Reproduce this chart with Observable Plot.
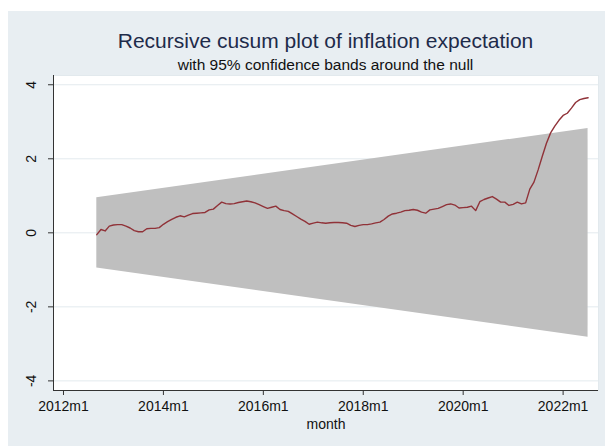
<!DOCTYPE html>
<html><head><meta charset="utf-8">
<script src="https://cdn.jsdelivr.net/npm/d3@7"></script>
<script src="https://cdn.jsdelivr.net/npm/@observablehq/plot@0.6"></script>
<style>
body{margin:0;background:#fff;width:605px;height:446px;overflow:hidden;position:relative;font-family:"Liberation Sans",Arial,Helvetica,sans-serif}
#bg{position:absolute;left:8px;top:11px;right:0;bottom:0;background:#e8eef2}
#head{position:absolute;left:53px;width:545px;top:0;height:72px;text-align:center}
#title{position:absolute;left:0;right:0;top:30px;font-size:21px;color:#1e2b4a;line-height:1;white-space:nowrap}
#subtitle{position:absolute;left:0;right:0;top:57px;font-size:15.5px;color:#111;line-height:1;white-space:nowrap}
#chart{position:absolute;left:0;top:72px}
</style>
</head><body>
<div id="bg"></div>
<div id="head"><div id="title"></div><div id="subtitle"></div></div>
<div id="chart"></div>
<script>
const titleText = "Recursive cusum plot of inflation expectation";
const subtitleText = "with 95% confidence bands around the null";
const xLabel = "month";

// months since 2012m1; series starts 2012m9
const firstMonth = 8;
const cusum = [
  -0.05,0.09,0.05,0.18,0.21,0.22,0.22,0.18,0.13,0.06,
  0.03,0.03,0.11,0.12,0.12,0.14,0.23,0.30,0.36,0.42,
  0.46,0.43,0.48,0.52,0.53,0.54,0.55,0.62,0.64,0.74,
  0.83,0.79,0.78,0.79,0.82,0.84,0.86,0.84,0.81,0.76,
  0.71,0.66,0.69,0.72,0.63,0.60,0.58,0.51,0.44,0.37,
  0.31,0.23,0.26,0.29,0.27,0.26,0.27,0.28,0.28,0.27,
  0.26,0.20,0.17,0.20,0.22,0.22,0.24,0.27,0.29,0.36,
  0.45,0.51,0.53,0.56,0.60,0.61,0.63,0.61,0.56,0.53,
  0.62,0.64,0.66,0.71,0.76,0.78,0.75,0.67,0.68,0.69,
  0.72,0.60,0.84,0.90,0.94,0.98,0.91,0.83,0.83,0.74,
  0.77,0.83,0.78,0.81,1.18,1.37,1.70,2.07,2.42,2.70,
  2.88,3.04,3.17,3.23,3.37,3.52,3.60,3.63,3.65
];
// confidence band end points
const bandMonths = [8, 126];
const bandUpper = [0.95, 2.82];
const bandLower = [-0.95, -2.82];

const xTicks = [0, 24, 48, 72, 96, 120];
const xTickLabels = ["2012m1","2014m1","2016m1","2018m1","2020m1","2022m1"];
const yTicks = [-4, -2, 0, 2, 4];
const yTickLabels = ["-4","-2","0","2","4"];

const xDomain = [-2.4, 128.5];
const yDomain = [-4.26, 4.25];

document.getElementById("title").textContent = titleText;
document.getElementById("subtitle").textContent = subtitleText;

const series = cusum.map((v, i) => ({m: firstMonth + i, v}));
const band = bandMonths.map((m, i) => ({m, lo: bandLower[i], hi: bandUpper[i]}));

const chart = Plot.plot({
  width: 605, height: 374,
  marginLeft: 53, marginRight: 7, marginTop: 3, marginBottom: 56,
  style: {background: "transparent", fontFamily: "'Liberation Sans', Arial, sans-serif", fontSize: "14px", color: "#333"},
  x: {domain: xDomain},
  y: {domain: yDomain},
  marks: [
    Plot.frame({fill: "white", stroke: "#e2e9ed"}),
    Plot.gridY(yTicks, {stroke: "#e3eaee", strokeOpacity: 1, strokeWidth: 1}),
    Plot.areaY(band, {x: "m", y1: "lo", y2: "hi", fill: "#bfbfbf"}),
    Plot.lineY(series, {x: "m", y: "v", stroke: "#903238", strokeWidth: 1.4}),
    Plot.ruleX([xDomain[0]], {stroke: "#333"}),
    Plot.ruleY([yDomain[0]], {stroke: "#333"}),
    Plot.axisX({ticks: xTicks, tickFormat: d => xTickLabels[xTicks.indexOf(d)], tickSize: 5, tickPadding: 6,
      label: xLabel, labelAnchor: "center", labelOffset: 38, labelArrow: "none", fill: "#111"}),
    Plot.axisY({ticks: yTicks, tickFormat: d => yTickLabels[yTicks.indexOf(d)], tickRotate: -90, tickSize: 5, tickPadding: 13, label: null, fill: "#111"})
  ]
});
document.getElementById("chart").appendChild(chart);
</script>
</body></html>
